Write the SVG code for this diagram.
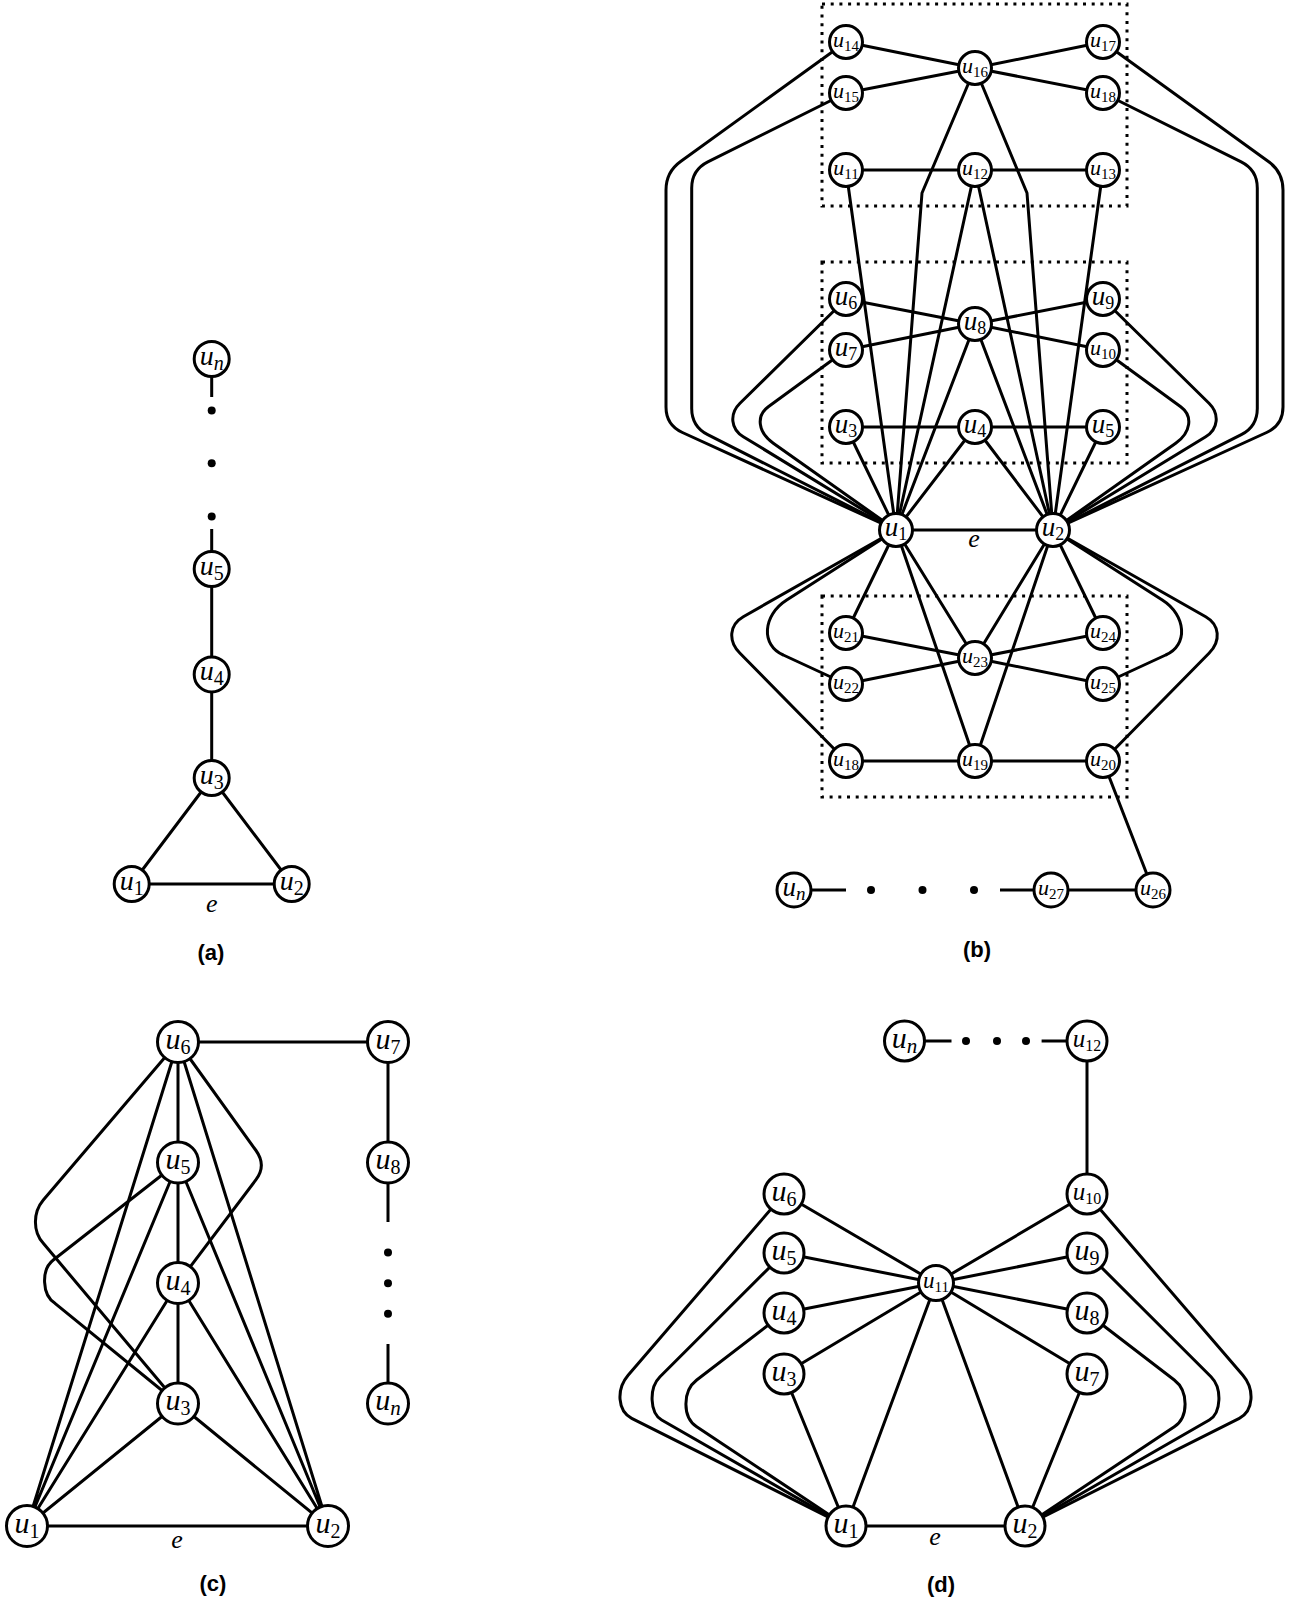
<svg xmlns="http://www.w3.org/2000/svg" width="1289" height="1602" viewBox="0 0 1289 1602">
<style>
.e{stroke:#000;stroke-width:3;fill:none;stroke-linejoin:round}
.n{fill:#fff;stroke:#000;stroke-width:3}
.box{fill:none;stroke:#000;stroke-width:3;stroke-dasharray:3 5.7}
.dot{fill:#000}
.l{font-family:"Liberation Serif","DejaVu Serif",serif;font-style:italic;text-anchor:middle;fill:#000}
.d{font-style:normal}
.cap{font-family:"Liberation Sans",Arial,sans-serif;font-weight:bold;font-size:22px;text-anchor:middle;fill:#000}
.el{font-family:"Liberation Serif",serif;font-style:italic;font-size:26px;text-anchor:middle;fill:#000}
</style>
<rect width="1289" height="1602" fill="#fff"/>

<g id="boxes">
<rect class="box" x="822" y="4" width="305" height="202"/>
<rect class="box" x="822" y="262" width="305" height="201"/>
<rect class="box" x="822" y="596" width="305" height="201"/>
</g>

<g id="connectors">
<!-- panel a -->
<path class="e" d="M131.7,884 L291.7,884 M131.7,884 L211.7,778 L291.7,884 M211.7,778 L211.7,569 L211.7,529 M211.7,359 L211.7,397"/>
<circle class="dot" cx="211.7" cy="410.4" r="4"/>
<circle class="dot" cx="211.7" cy="463.2" r="4"/>
<circle class="dot" cx="211.7" cy="516.4" r="4"/>

<!-- panel b: top box -->
<path class="e" d="M846,42 L975,68 L1103,42 M846,93 L975,68 L1103,93 M846,170 L1103,170"/>
<path class="e" d="M975,68 L922,193 L896,530 M975,68 L1027,193 L1053,530"/>
<path class="e" d="M846,170 L896,530 M975,170 L896,530 M975,170 L1053,530 M1103,170 L1053,530"/>
<!-- middle box -->
<path class="e" d="M846,299 L975,324 L1103,299 M846,350 L975,324 L1103,350 M846,427 L1103,427"/>
<path class="e" d="M846,427 L896,530 M975,427 L896,530 M975,427 L1053,530 M1103,427 L1053,530 M975,324 L896,530 M975,324 L1053,530"/>
<path class="e" d="M896,530 L1053,530"/>
<!-- outer curves -->
<path class="e" d="M846,42 L680.6,161.5 Q666,172 666,190 L666,407 Q666,425 682.4,432.5 L896,530"/>
<path class="e" d="M846,93 L707.8,161.9 Q691.7,170 691.7,188 L691.7,408.5 Q691.7,426.5 707.7,434.7 L896,530"/>
<path class="e" d="M846,299 L740,403.3 C729.2,413.9 730.7,428.9 743.3,436.7 L896,530"/>
<path class="e" d="M846,350 L768.3,406.7 C755.8,415.9 758,432.4 773.3,443.3 L896,530"/>
<path class="e" d="M1103,42 L1268.4,161.5 Q1283,172 1283,190 L1283,407 Q1283,425 1266.6,432.5 L1053,530"/>
<path class="e" d="M1103,93 L1241.2,161.9 Q1257.3,170 1257.3,188 L1257.3,408.5 Q1257.3,426.5 1241.3,434.7 L1053,530"/>
<path class="e" d="M1103,299 L1209,403.3 C1219.8,413.9 1218.3,428.9 1205.7,436.7 L1053,530"/>
<path class="e" d="M1103,350 L1180.7,406.7 C1193.2,415.9 1191,432.4 1175.7,443.3 L1053,530"/>
<!-- bottom box -->
<path class="e" d="M896,530 L846,633 M896,530 L975,658 M896,530 L975,761 M1053,530 L975,658 M1053,530 L975,761 M1053,530 L1103,633"/>
<path class="e" d="M846,633 L975,658 L1103,633 M846,684 L975,658 L1103,684 M846,761 L1103,761"/>
<path class="e" d="M896,530 L743.3,616.7 C729.3,624.7 727.8,641.1 740,653.3 L846,761"/>
<path class="e" d="M896,530 L786.7,600 C762.5,615.3 760.7,645.5 783.3,655 L846,684"/>
<path class="e" d="M1053,530 L1205.7,616.7 C1219.7,624.7 1221.2,641.1 1209,653.3 L1103,761"/>
<path class="e" d="M1053,530 L1162.3,600 C1186.5,615.3 1188.3,645.5 1165.7,655 L1103,684"/>
<path class="e" d="M1103,761 L1153,890 L1051,890 L1000,890 M794,890 L846,890"/>
<circle class="dot" cx="871" cy="890" r="4"/>
<circle class="dot" cx="922.5" cy="890" r="4"/>
<circle class="dot" cx="974" cy="890" r="4"/>

<!-- panel c -->
<path class="e" d="M27,1526 L328,1526 M178,1042 L178,1403.5 M178,1042 L388,1042 L388,1162.5 L388,1222 M388,1344 L388,1403.5"/>
<path class="e" d="M27,1526 L178,1403.5 M27,1526 L178,1283 M27,1526 L178,1162.5 M27,1526 L178,1042"/>
<path class="e" d="M328,1526 L178,1403.5 M328,1526 L178,1283 M328,1526 L178,1162.5 M328,1526 L178,1042"/>
<path class="e" d="M178,1042 L43.3,1200 C32.8,1212.4 32.8,1231.9 43.3,1243.3 L178,1403.5"/>
<path class="e" d="M178,1162.5 L53.3,1260 C40.9,1269.7 41.9,1294.8 55,1303.3 L178,1403.5"/>
<path class="e" d="M178,1042 L256,1150.5 Q266.7,1165.5 256,1179.7 L178,1283"/>
<circle class="dot" cx="388" cy="1252.6" r="4"/>
<circle class="dot" cx="388" cy="1283.2" r="4"/>
<circle class="dot" cx="388" cy="1313.8" r="4"/>

<!-- panel d -->
<path class="e" d="M846,1526 L1025,1526 M936,1283 L846,1526 M936,1283 L1025,1526 M784,1374 L846,1526 M1087,1374 L1025,1526"/>
<path class="e" d="M936,1283 L784,1194 M936,1283 L784,1253 M936,1283 L784,1313 M936,1283 L784,1374 M936,1283 L1087,1194 M936,1283 L1087,1253 M936,1283 L1087,1313 M936,1283 L1087,1374"/>
<path class="e" d="M1087,1194 L1087,1041 L1041.6,1041 M904.5,1041 L951.5,1041"/>
<path class="e" d="M784,1194 L628.3,1375 C615.9,1389.5 617.6,1411.2 631.7,1418.3 L846,1526"/>
<path class="e" d="M784,1253 L660,1376.7 C648.7,1388 649.7,1413.1 661.7,1420 L846,1526"/>
<path class="e" d="M784,1313 L696.7,1380 C682.3,1391 682.3,1417.2 696.7,1426.7 L846,1526"/>
<path class="e" d="M1087,1194 L1242.7,1375 C1255.1,1389.5 1253.4,1411.2 1239.3,1418.3 L1025,1526"/>
<path class="e" d="M1087,1253 L1211,1376.7 C1222.3,1388 1221.3,1413.1 1209.3,1420 L1025,1526"/>
<path class="e" d="M1087,1313 L1174.3,1380 C1188.7,1391 1188.7,1417.2 1174.3,1426.7 L1025,1526"/>
<circle class="dot" cx="966" cy="1041" r="4"/>
<circle class="dot" cx="997" cy="1041" r="4"/>
<circle class="dot" cx="1026" cy="1041" r="4"/>
</g>

<!-- edge labels -->
<g id="edge-labels">
<text class="el" x="211.7" y="912">e</text>
<text class="el" x="974" y="547">e</text>
<text class="el" x="177" y="1548">e</text>
<text class="el" x="935" y="1545">e</text>
</g>

<!-- panel a nodes -->
<g id="a-un"><circle class="n" cx="211.7" cy="359" r="17.5"/><text class="l" x="211.7" y="365" font-size="28">u<tspan dy="5" font-size="20">n</tspan></text></g>
<g id="a-u5"><circle class="n" cx="211.7" cy="569" r="17.5"/><text class="l" x="211.7" y="575" font-size="28">u<tspan class="d" dy="5" font-size="20">5</tspan></text></g>
<g id="a-u4"><circle class="n" cx="211.7" cy="674.4" r="17.5"/><text class="l" x="211.7" y="680.4" font-size="28">u<tspan class="d" dy="5" font-size="20">4</tspan></text></g>
<g id="a-u3"><circle class="n" cx="211.7" cy="778" r="17.5"/><text class="l" x="211.7" y="784" font-size="28">u<tspan class="d" dy="5" font-size="20">3</tspan></text></g>
<g id="a-u1"><circle class="n" cx="131.7" cy="884" r="17.5"/><text class="l" x="131.7" y="890" font-size="28">u<tspan class="d" dy="5" font-size="20">1</tspan></text></g>
<g id="a-u2"><circle class="n" cx="291.7" cy="884" r="17.5"/><text class="l" x="291.7" y="890" font-size="28">u<tspan class="d" dy="5" font-size="20">2</tspan></text></g>

<!-- panel b nodes -->
<g id="b-u14"><circle class="n" cx="846" cy="42" r="16.5"/><text class="l" x="846" y="47" font-size="22">u<tspan class="d" dy="4" font-size="15">14</tspan></text></g>
<g id="b-u15"><circle class="n" cx="846" cy="93" r="16.5"/><text class="l" x="846" y="98" font-size="22">u<tspan class="d" dy="4" font-size="15">15</tspan></text></g>
<g id="b-u16"><circle class="n" cx="975" cy="68" r="16.5"/><text class="l" x="975" y="73" font-size="22">u<tspan class="d" dy="4" font-size="15">16</tspan></text></g>
<g id="b-u17"><circle class="n" cx="1103" cy="42" r="16.5"/><text class="l" x="1103" y="47" font-size="22">u<tspan class="d" dy="4" font-size="15">17</tspan></text></g>
<g id="b-u18-top"><circle class="n" cx="1103" cy="93" r="16.5"/><text class="l" x="1103" y="98" font-size="22">u<tspan class="d" dy="4" font-size="15">18</tspan></text></g>
<g id="b-u11"><circle class="n" cx="846" cy="170" r="16.5"/><text class="l" x="846" y="175" font-size="22">u<tspan class="d" dy="4" font-size="15">11</tspan></text></g>
<g id="b-u12"><circle class="n" cx="975" cy="170" r="16.5"/><text class="l" x="975" y="175" font-size="22">u<tspan class="d" dy="4" font-size="15">12</tspan></text></g>
<g id="b-u13"><circle class="n" cx="1103" cy="170" r="16.5"/><text class="l" x="1103" y="175" font-size="22">u<tspan class="d" dy="4" font-size="15">13</tspan></text></g>
<g id="b-u6"><circle class="n" cx="846" cy="299" r="16.5"/><text class="l" x="846" y="305" font-size="27">u<tspan class="d" dy="4" font-size="18">6</tspan></text></g>
<g id="b-u7"><circle class="n" cx="846" cy="350" r="16.5"/><text class="l" x="846" y="356" font-size="27">u<tspan class="d" dy="4" font-size="18">7</tspan></text></g>
<g id="b-u8"><circle class="n" cx="975" cy="324" r="16.5"/><text class="l" x="975" y="330" font-size="27">u<tspan class="d" dy="4" font-size="18">8</tspan></text></g>
<g id="b-u9"><circle class="n" cx="1103" cy="299" r="16.5"/><text class="l" x="1103" y="305" font-size="27">u<tspan class="d" dy="4" font-size="18">9</tspan></text></g>
<g id="b-u10"><circle class="n" cx="1103" cy="350" r="16.5"/><text class="l" x="1103" y="355" font-size="22">u<tspan class="d" dy="4" font-size="15">10</tspan></text></g>
<g id="b-u3"><circle class="n" cx="846" cy="427" r="16.5"/><text class="l" x="846" y="433" font-size="27">u<tspan class="d" dy="4" font-size="18">3</tspan></text></g>
<g id="b-u4"><circle class="n" cx="975" cy="427" r="16.5"/><text class="l" x="975" y="433" font-size="27">u<tspan class="d" dy="4" font-size="18">4</tspan></text></g>
<g id="b-u5"><circle class="n" cx="1103" cy="427" r="16.5"/><text class="l" x="1103" y="433" font-size="27">u<tspan class="d" dy="4" font-size="18">5</tspan></text></g>
<g id="b-u1"><circle class="n" cx="896" cy="530" r="16.5"/><text class="l" x="896" y="536" font-size="27">u<tspan class="d" dy="4" font-size="18">1</tspan></text></g>
<g id="b-u2"><circle class="n" cx="1053" cy="530" r="16.5"/><text class="l" x="1053" y="536" font-size="27">u<tspan class="d" dy="4" font-size="18">2</tspan></text></g>
<g id="b-u21"><circle class="n" cx="846" cy="633" r="16.5"/><text class="l" x="846" y="638" font-size="22">u<tspan class="d" dy="4" font-size="15">21</tspan></text></g>
<g id="b-u22"><circle class="n" cx="846" cy="684" r="16.5"/><text class="l" x="846" y="689" font-size="22">u<tspan class="d" dy="4" font-size="15">22</tspan></text></g>
<g id="b-u23"><circle class="n" cx="975" cy="658" r="16.5"/><text class="l" x="975" y="663" font-size="22">u<tspan class="d" dy="4" font-size="15">23</tspan></text></g>
<g id="b-u24"><circle class="n" cx="1103" cy="633" r="16.5"/><text class="l" x="1103" y="638" font-size="22">u<tspan class="d" dy="4" font-size="15">24</tspan></text></g>
<g id="b-u25"><circle class="n" cx="1103" cy="684" r="16.5"/><text class="l" x="1103" y="689" font-size="22">u<tspan class="d" dy="4" font-size="15">25</tspan></text></g>
<g id="b-u18"><circle class="n" cx="846" cy="761" r="16.5"/><text class="l" x="846" y="766" font-size="22">u<tspan class="d" dy="4" font-size="15">18</tspan></text></g>
<g id="b-u19"><circle class="n" cx="975" cy="761" r="16.5"/><text class="l" x="975" y="766" font-size="22">u<tspan class="d" dy="4" font-size="15">19</tspan></text></g>
<g id="b-u20"><circle class="n" cx="1103" cy="761" r="16.5"/><text class="l" x="1103" y="766" font-size="22">u<tspan class="d" dy="4" font-size="15">20</tspan></text></g>
<g id="b-un"><circle class="n" cx="794" cy="890" r="17"/><text class="l" x="794" y="896" font-size="27">u<tspan dy="4" font-size="19">n</tspan></text></g>
<g id="b-u27"><circle class="n" cx="1051" cy="890" r="17"/><text class="l" x="1051" y="895" font-size="22">u<tspan class="d" dy="4" font-size="15">27</tspan></text></g>
<g id="b-u26"><circle class="n" cx="1153" cy="890" r="17"/><text class="l" x="1153" y="895" font-size="22">u<tspan class="d" dy="4" font-size="15">26</tspan></text></g>

<!-- panel c nodes -->
<g id="c-u6"><circle class="n" cx="178" cy="1042" r="20.5"/><text class="l" x="178" y="1048.5" font-size="30">u<tspan class="d" dy="5" font-size="20">6</tspan></text></g>
<g id="c-u7"><circle class="n" cx="388" cy="1042" r="20.5"/><text class="l" x="388" y="1048.5" font-size="30">u<tspan class="d" dy="5" font-size="20">7</tspan></text></g>
<g id="c-u5"><circle class="n" cx="178" cy="1162.5" r="20.5"/><text class="l" x="178" y="1169" font-size="30">u<tspan class="d" dy="5" font-size="20">5</tspan></text></g>
<g id="c-u8"><circle class="n" cx="388" cy="1162.5" r="20.5"/><text class="l" x="388" y="1169" font-size="30">u<tspan class="d" dy="5" font-size="20">8</tspan></text></g>
<g id="c-u4"><circle class="n" cx="178" cy="1283" r="20.5"/><text class="l" x="178" y="1289.5" font-size="30">u<tspan class="d" dy="5" font-size="20">4</tspan></text></g>
<g id="c-u3"><circle class="n" cx="178" cy="1403.5" r="20.5"/><text class="l" x="178" y="1410" font-size="30">u<tspan class="d" dy="5" font-size="20">3</tspan></text></g>
<g id="c-un"><circle class="n" cx="388" cy="1403.5" r="20.5"/><text class="l" x="388" y="1410" font-size="30">u<tspan dy="5" font-size="21">n</tspan></text></g>
<g id="c-u1"><circle class="n" cx="27" cy="1526" r="20.5"/><text class="l" x="27" y="1532.5" font-size="30">u<tspan class="d" dy="5" font-size="20">1</tspan></text></g>
<g id="c-u2"><circle class="n" cx="328" cy="1526" r="20.5"/><text class="l" x="328" y="1532.5" font-size="30">u<tspan class="d" dy="5" font-size="20">2</tspan></text></g>

<!-- panel d nodes -->
<g id="d-un"><circle class="n" cx="904.5" cy="1041" r="20"/><text class="l" x="904.5" y="1047.5" font-size="30">u<tspan dy="5" font-size="21">n</tspan></text></g>
<g id="d-u12"><circle class="n" cx="1087" cy="1041" r="20"/><text class="l" x="1087" y="1046.5" font-size="25">u<tspan class="d" dy="4" font-size="16">12</tspan></text></g>
<g id="d-u10"><circle class="n" cx="1087" cy="1194" r="20"/><text class="l" x="1087" y="1199.5" font-size="25">u<tspan class="d" dy="4" font-size="16">10</tspan></text></g>
<g id="d-u9"><circle class="n" cx="1087" cy="1253" r="20"/><text class="l" x="1087" y="1259.5" font-size="30">u<tspan class="d" dy="5" font-size="20">9</tspan></text></g>
<g id="d-u8"><circle class="n" cx="1087" cy="1313" r="20"/><text class="l" x="1087" y="1319.5" font-size="30">u<tspan class="d" dy="5" font-size="20">8</tspan></text></g>
<g id="d-u7"><circle class="n" cx="1087" cy="1374" r="20"/><text class="l" x="1087" y="1380.5" font-size="30">u<tspan class="d" dy="5" font-size="20">7</tspan></text></g>
<g id="d-u6"><circle class="n" cx="784" cy="1194" r="20"/><text class="l" x="784" y="1200.5" font-size="30">u<tspan class="d" dy="5" font-size="20">6</tspan></text></g>
<g id="d-u5"><circle class="n" cx="784" cy="1253" r="20"/><text class="l" x="784" y="1259.5" font-size="30">u<tspan class="d" dy="5" font-size="20">5</tspan></text></g>
<g id="d-u4"><circle class="n" cx="784" cy="1313" r="20"/><text class="l" x="784" y="1319.5" font-size="30">u<tspan class="d" dy="5" font-size="20">4</tspan></text></g>
<g id="d-u3"><circle class="n" cx="784" cy="1374" r="20"/><text class="l" x="784" y="1380.5" font-size="30">u<tspan class="d" dy="5" font-size="20">3</tspan></text></g>
<g id="d-u11"><circle class="n" cx="936" cy="1283" r="17.5"/><text class="l" x="936" y="1288" font-size="23">u<tspan class="d" dy="4" font-size="15">11</tspan></text></g>
<g id="d-u1"><circle class="n" cx="846" cy="1526" r="20"/><text class="l" x="846" y="1532.5" font-size="30">u<tspan class="d" dy="5" font-size="20">1</tspan></text></g>
<g id="d-u2"><circle class="n" cx="1025" cy="1526" r="20"/><text class="l" x="1025" y="1532.5" font-size="30">u<tspan class="d" dy="5" font-size="20">2</tspan></text></g>

<!-- captions -->
<g id="captions">
<text class="cap" x="211" y="960">(a)</text>
<text class="cap" x="977" y="957">(b)</text>
<text class="cap" x="213" y="1591">(c)</text>
<text class="cap" x="941" y="1592">(d)</text>
</g>
</svg>
